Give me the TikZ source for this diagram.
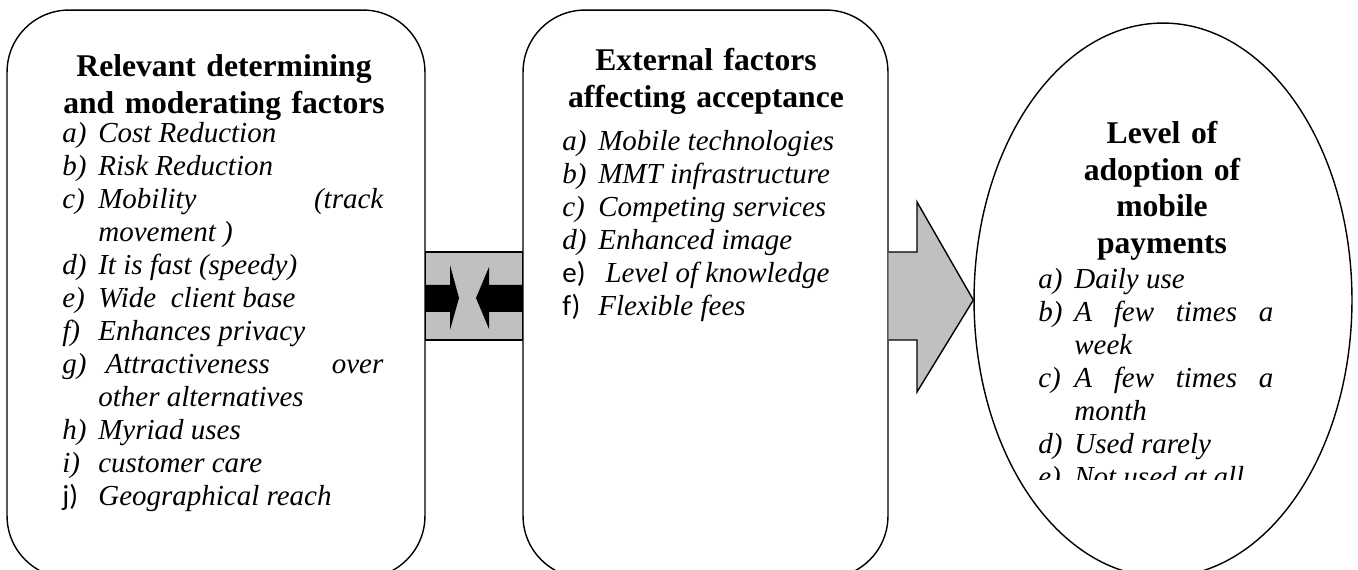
\documentclass[tikz,border=0pt]{standalone}
\usepackage{fontspec}
\setmainfont{Liberation Serif}
\newfontfamily\calibri{Carlito}
\usetikzlibrary{
    shapes.geometric,
    calc
}
\definecolor{bandGray}{RGB}{192,192,192}
\tikzset{
  panel/.style   = {draw, line width=0.8pt, rounded corners=1.24cm,
                    minimum width=#1, minimum height=11.36cm},
  oval/.style    = {draw, ellipse, line width=0.8pt, inner sep=0pt,
                    minimum width=7.56cm, minimum height=11.08cm},
  head/.style    = {font=\fontsize{18}{21}\selectfont\bfseries,
                    align=center, inner sep=0pt, anchor=north, text width=8cm},
  items/.style   = {font=\fontsize{16.5}{18.8}\selectfont\itshape,
                    align=justify, inner sep=0pt, anchor=north west, text width=#1},
  band/.style    = {draw, fill=bandGray, line width=0.8pt},
  bigarrow/.style = {draw, fill=bandGray, line width=0.8pt, line join=miter}
}
\newcommand{\itm}[2]{\noindent\hangindent=0.72cm\hangafter=1\strut\makebox[0.72cm][l]{#1}#2\par}
\newcommand{\clab}[1]{{\calibri\upshape #1}}

\begin{document}
\begin{tikzpicture}[x=0.02cm, y=-0.02cm]
  \useasboundingbox (0,0) rectangle (1358,570);
  \clip (0,0) rectangle (1358,570);
  % boxes
  \node[panel=8.36cm] (factors) at (216,294) {};
  \node[panel=7.30cm] (external) at (705.5,294) {};
  \node[oval] (adoption) at (1163,300) {};
  % connector between the two boxes
  \draw[band] (factors.east |- 0,252) rectangle (external.west |- 0,340);
  \fill (factors.east |- 0,285) -- (450,285) -- (450,265) -- (459,298)
        -- (450,330) -- (450,312) -- (factors.east |- 0,312) -- cycle;
  \fill (external.west |- 0,285) -- (489,285) -- (489,267) -- (476,298)
        -- (489,329) -- (489,312) -- (external.west |- 0,312) -- cycle;
  % arrow into the ellipse
  \path[bigarrow] (external.east |- 0,252) -- (917,252) -- (917,202) -- (adoption.west)
        -- (917,392) -- (917,340) -- (external.east |- 0,340);
  % texts
  \node[head] (factorsHead) at (224,50) {\strut Relevant determining\\and moderating factors};
  \node[items=6.42cm] (factorsList) at (62,119) {\parskip=0pt
    \itm{a)}{Cost Reduction}
    \itm{b)}{Risk Reduction}
    \itm{c)}{Mobility\hfill(track\\movement )}
    \itm{d)}{It is fast (speedy)}
    \itm{e)}{Wide\ \ client base}
    \itm{f)}{Enhances privacy}
    \itm{g)}{\ Attractiveness\hfill over\\other alternatives}
    \itm{h)}{Myriad uses}
    \itm{i)}{customer care}
    \itm{\clab{j)}}{Geographical reach}};
  \node[head] (externalHead) at (706,44) {\strut External factors\\affecting acceptance};
  \node[items=6.42cm] (externalList) at (562,127) {\parskip=0pt
    \itm{a)}{Mobile technologies}
    \itm{b)}{MMT infrastructure}
    \itm{c)}{Competing services}
    \itm{d)}{Enhanced image}
    \itm{\clab{e)}}{\ Level of knowledge}
    \itm{\clab{f)}}{Flexible fees}};
  \node[head] (adoptionHead) at (1162,117) {\strut Level of\\adoption of\\mobile\\payments};
  \begin{scope}
    \clip (1000,200) rectangle (1320,479);
    \node[items=4.70cm] (adoptionList) at (1038,265) {\parskip=0pt
      \itm{a)}{Daily use}
      \itm{b)}{A\hfill few\hfill times\hfill a\\week}
      \itm{c)}{A\hfill few\hfill times\hfill a\\month}
      \itm{d)}{Used rarely}
      \itm{e)}{Not used at all}};
  \end{scope}
\end{tikzpicture}
\end{document}
